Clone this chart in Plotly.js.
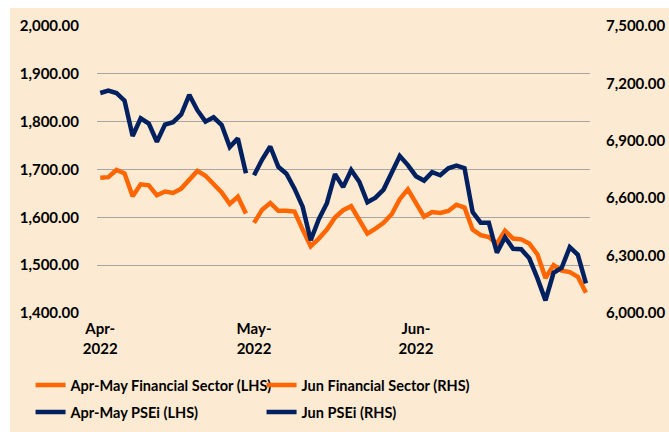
<!DOCTYPE html>
<html>
<head>
<meta charset="utf-8">
<script src="https://cdn.plot.ly/plotly-3.0.1.min.js"></script>
<style>
  html, body { margin: 0; padding: 0; background: #ffffff; width: 669px; height: 432px; overflow: hidden; }
  #chart { position: absolute; left: 10px; top: 8px; width: 659px; height: 424px; }
</style>
</head>
<body>
<div id="chart"></div>
<script>
// Trading days (category axis)
const dates = [
  '2022-04-01','2022-04-04','2022-04-05','2022-04-06','2022-04-07','2022-04-08',
  '2022-04-11','2022-04-12','2022-04-13','2022-04-18','2022-04-19','2022-04-20',
  '2022-04-21','2022-04-22','2022-04-25','2022-04-26','2022-04-27','2022-04-28','2022-04-29',
  '2022-05-02','2022-05-04','2022-05-05','2022-05-06','2022-05-10','2022-05-11',
  '2022-05-12','2022-05-13','2022-05-16','2022-05-17','2022-05-18','2022-05-19',
  '2022-05-20','2022-05-23','2022-05-24','2022-05-25','2022-05-26','2022-05-27',
  '2022-05-30','2022-05-31',
  '2022-06-01','2022-06-02','2022-06-03','2022-06-06','2022-06-07','2022-06-08',
  '2022-06-09','2022-06-10','2022-06-13','2022-06-14','2022-06-15','2022-06-16',
  '2022-06-17','2022-06-20','2022-06-21','2022-06-22','2022-06-23','2022-06-24',
  '2022-06-27','2022-06-28','2022-06-29','2022-06-30'
];
const aprMayDates = dates.slice(0, 19);
const junDates = dates.slice(19);

// Left-hand-side series (Apr-May)
const aprMayFinancial = [1683,1684,1699,1692,1644,1669,1667,1646,1654,1651,1660,1678,1697,1687,1671,1652,1628,1643,1608];
const aprMayPSEi = [1860,1865,1860,1844,1770,1807,1796,1758,1794,1799,1815,1856,1824,1800,1809,1793,1747,1765,1692];

// Right-hand-side series (Jun)
const junFinancial = [6471,6540,6575,6534,6534,6530,6436,6349,6389,6436,6499,6537,6558,6485,6415,6441,6471,6516,6595,6646,6572,6503,6528,6523,6533,6566,6551,6436,6407,6397,6363,6430,6389,6385,6363,6307,6183,6250,6221,6214,6189,6106];
const junPSEi = [6720,6802,6870,6764,6728,6650,6556,6380,6490,6574,6726,6658,6747,6686,6579,6603,6645,6729,6820,6773,6715,6692,6736,6720,6756,6770,6757,6527,6472,6472,6315,6396,6336,6333,6286,6182,6066,6210,6236,6344,6304,6155];

// Tick labels
const xTickVals = ['2022-04-01','2022-05-02','2022-06-01'];
const xTickText = ['Apr-<br>2022','May-<br>2022','Jun-<br>2022'];
const leftTicks = [1400,1500,1600,1700,1800,1900,2000];
const rightTicks = [6000,6300,6600,6900,7200,7500];

const ORANGE = '#FF6600';
const NAVY = '#002060';
const FONT = 'Lato, "Open Sans", sans-serif';

const traces = [
  { x: aprMayDates, y: aprMayFinancial, name: 'Apr-May Financial Sector (LHS)', type: 'scatter', mode: 'lines',
    line: { color: ORANGE, width: 4.5 }, yaxis: 'y', legend: 'legend' },
  { x: junDates, y: junFinancial, name: 'Jun Financial Sector (RHS)', type: 'scatter', mode: 'lines',
    line: { color: ORANGE, width: 4.5 }, yaxis: 'y2', legend: 'legend' },
  { x: aprMayDates, y: aprMayPSEi, name: 'Apr-May PSEi (LHS)', type: 'scatter', mode: 'lines',
    line: { color: NAVY, width: 4.5 }, yaxis: 'y', legend: 'legend2' },
  { x: junDates, y: junPSEi, name: 'Jun PSEi (RHS)', type: 'scatter', mode: 'lines',
    line: { color: NAVY, width: 4.5 }, yaxis: 'y2', legend: 'legend2' }
];

const legendCommon = {
  orientation: 'h', xref: 'container', yref: 'container', xanchor: 'left', yanchor: 'middle',
  x: 0.0312, bgcolor: 'rgba(0,0,0,0)', itemwidth: 30, entrywidth: 186, entrywidthmode: 'pixels',
  font: { family: FONT, size: 14.5, color: '#000000', weight: 'bold' }, traceorder: 'normal'
};

const layout = {
  width: 659, height: 424,
  paper_bgcolor: '#FCEAD2', plot_bgcolor: '#FCEAD2',
  margin: { l: 87, r: 79, t: 18, b: 119.3, pad: 0 },
  font: { family: FONT, size: 15, color: '#000000', weight: 'bold' },
  showlegend: true,
  xaxis: {
    type: 'category', categoryorder: 'array', categoryarray: dates,
    range: [-0.4, 60.5], tickmode: 'array', tickvals: xTickVals, ticktext: xTickText,
    showgrid: false, showline: false, zeroline: false, ticks: '',
    ticklabelstandoff: 5,
    tickfont: { family: FONT, size: 15, color: '#000000', weight: 'bold' }
  },
  yaxis: {
    range: [1400, 2000], tickmode: 'array', tickvals: leftTicks, tickformat: ',.2f',
    showgrid: true, gridcolor: '#A6A6A6', gridwidth: 1, zeroline: false, showline: false, ticks: '',
    ticklabelstandoff: 17,
    tickfont: { family: FONT, size: 15, color: '#000000', weight: 'bold' }
  },
  yaxis2: {
    range: [6000, 7500], tickmode: 'array', tickvals: rightTicks, tickformat: ',.2f',
    overlaying: 'y', side: 'right', showgrid: false, zeroline: false, showline: false, ticks: '',
    ticklabelstandoff: 15,
    tickfont: { family: FONT, size: 15, color: '#000000', weight: 'bold' }
  },
  legend: Object.assign({}, legendCommon, { y: 0.1108 }),
  legend2: Object.assign({}, legendCommon, { y: 0.0472 })
};

Plotly.newPlot('chart', traces, layout, { staticPlot: true, displayModeBar: false });
</script>
</body>
</html>
